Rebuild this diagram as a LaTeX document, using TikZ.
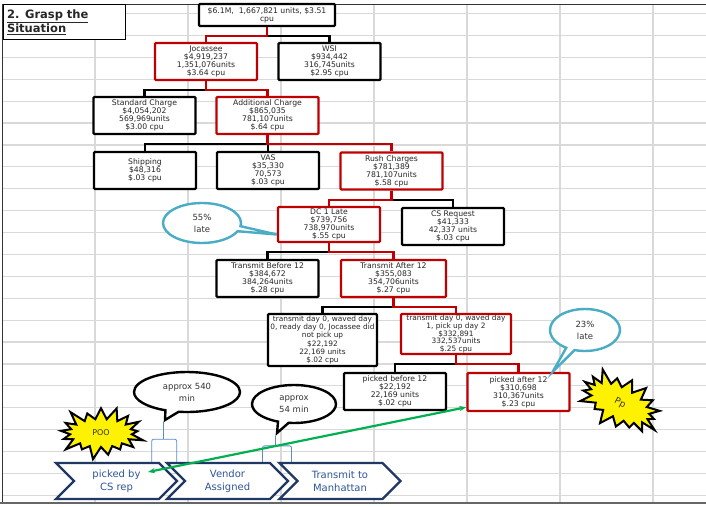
\documentclass[tikz,border=0pt]{standalone}
\usepackage{fontspec}
\setmainfont{DejaVu Sans}
\usetikzlibrary{shapes.callouts,shapes.symbols,shapes.arrows,arrows.meta}
\definecolor{cred}{HTML}{C00000}
\definecolor{cteal}{HTML}{4BACC6}
\definecolor{cnavy}{HTML}{1F3864}
\definecolor{ctext}{HTML}{2E5597}
\definecolor{cgreen}{HTML}{00B050}
\definecolor{cbrack}{HTML}{5B8BC9}
\definecolor{cgrid}{HTML}{D9D9D9}
\tikzset{
  box/.style={draw=black, line width=2.4pt, rounded corners=1pt, fill=white, align=center,
    inner sep=0pt, text=black!85, font=\fontsize{7.7}{8}\selectfont,
    minimum width=102pt, minimum height=37pt},
  rbox/.style={box, draw=cred},
  blink/.style={black, line width=2.4pt},
  rlink/.style={cred, line width=2.4pt},
  bubble/.style={ellipse callout, draw=cteal, line width=2.4pt, fill=white, align=center,
    text=black!80, font=\fontsize{8.5}{12}\selectfont, inner sep=0pt},
  wbubble/.style={bubble, draw=black},
  burst/.style={starburst, fill=yellow, draw=black, line width=2pt, inner sep=0pt,
    starburst point height=15pt, text=black!80, font=\fontsize{8}{9}\selectfont},
  chev/.style={signal, signal from=west, signal to=east, draw=cnavy, line width=2.4pt,
    fill=white, text=ctext, align=center, font=\fontsize{10}{13}\selectfont,
    minimum width=121pt, minimum height=36pt, inner sep=0pt},
  bracket/.style={cbrack, line width=0.8pt, rounded corners=2pt},
}
\newcommand\branch[3]{\draw[#1] (#2.south) -- ++(0,9) -| (#3.north);}
\begin{document}
\begin{tikzpicture}[x=1pt,y=-1pt]
\useasboundingbox (0,0) rectangle (706,506);
\fill[white] (0,0) rectangle (706,506);
\foreach \k in {0,...,22}
  \draw[cgrid, line width=1.2pt] (2,13.5+21.9*\k) -- (706,13.5+21.9*\k);
\foreach \gx in {95,188,281,374,467,560,653}
  \draw[cgrid, line width=1.2pt] (\gx,4) -- (\gx,503);
\draw[black!80, line width=0.8pt] (2,503) -- (2,4) -- (706,4);
\draw[black!60, line width=1.4pt] (0,503) -- (706,503);

\node (title) [draw, line width=0.9pt, fill=white, minimum width=122pt, minimum height=35pt,
  text width=114pt, align=left, inner sep=0pt, font=\fontsize{11.5}{14}\selectfont\bfseries,
  text=black!85] at (64,22) {\underline{2. Grasp the}\\\underline{Situation}};

\node (top) [box, minimum width=136pt, minimum height=22pt] at (267,15)
  {\$6.1M,\ \ 1,667,821 units, \$3.51\\cpu};
\node (joc) [rbox] at (206,61.5) {Jocassee\\\$4,919,237\\1,351,076units\\\$3.64 cpu};
\node (wsi) [box] at (329.5,61.5) {WSI\\\$934,442\\316,745units\\\$2.95 cpu};
\node (std) [box] at (144.5,115.5) {Standard Charge\\\$4,054,202\\569,969units\\\$3.00 cpu};
\node (add) [rbox] at (267.5,115.5) {Additional Charge\\\$865,035\\781,107units\\\$.64 cpu};
\node (ship) [box] at (145,170.5) {Shipping\\\$48,316\\\$.03 cpu};
\node (vas) [box] at (268,170.5) {VAS\\\$35,330\\70,573\\\$.03 cpu};
\node (rush) [rbox] at (391.5,171) {Rush Charges\\\$781,389\\781,107units\\\$.58 cpu};
\node (dc) [rbox, minimum height=35pt] at (329,224.5) {DC 1 Late\\\$739,756\\738,970units\\\$.55 cpu};
\node (csr) [box] at (453,226.5) {CS Request\\\$41,333\\42,337 units\\\$.03 cpu};
\node (tb) [box] at (267.5,278.5) {Transmit Before 12\\\$384,672\\384,264units\\\$.28 cpu};
\node (ta) [rbox, minimum width=105pt] at (393.5,278.5) {Transmit After 12\\\$355,083\\354,706units\\\$.27 cpu};
\node (tdl) [box, minimum width=109pt, minimum height=52pt, font=\fontsize{7.4}{8.2}\selectfont]
  at (322.5,340)
  {transmit day 0, waved day\\0, ready day 0, Jocassee did\\not pick up\\\$22,192\\22,169 units\\\$.02 cpu};
\node (tdr) [rbox, minimum width=110pt, minimum height=40pt, font=\fontsize{7.4}{7.6}\selectfont]
  at (456,334)
  {transmit day 0, waved day\\1, pick up day 2\\\$332,891\\332,537units\\\$.25 cpu};
\node (pb) [box] at (395,391.5) {picked before 12\\\$22,192\\22,169 units\\\$.02 cpu};
\node (pa) [rbox, minimum height=38pt] at (518.5,392) {picked after 12\\\$310,698\\310,367units\\\$.23 cpu};

\branch{blink}{top}{wsi}
\branch{rlink}{top}{joc}
\branch{blink}{joc}{std}
\branch{rlink}{joc}{add}
\branch{blink}{add}{ship}
\branch{blink}{add}{vas}
\branch{rlink}{add}{rush}
\branch{blink}{rush}{csr}
\branch{rlink}{rush}{dc}
\branch{blink}{dc}{tb}
\branch{rlink}{dc}{ta}
\branch{blink}{ta}{tdl}
\branch{rlink}{ta}{tdr}
\branch{blink}{tdr}{pb}
\branch{rlink}{tdr}{pa}

\node (late55) [bubble, minimum width=78pt, minimum height=40pt,
  callout absolute pointer={([yshift=-10pt]dc.west)}] at (202,223) {55\%\\late};
\node (late23) [bubble, minimum width=70pt, minimum height=42pt,
  callout absolute pointer={([xshift=-18pt]pa.north east)}] at (585,330) {23\%\\late};

\node (ch1) [chev] at (116.5,481) {picked by\\CS rep};
\node (ch2) [chev] at (227.5,481) {Vendor\\Assigned};
\node (ch3) [chev] at (340,481) {Transmit to\\Manhattan};

\node (c540) [wbubble, minimum width=106pt, minimum height=40pt,
  callout absolute pointer={(165,420)}] at (187,392) {approx 540\\min};
\node (c54) [wbubble, minimum width=84pt, minimum height=38pt,
  callout absolute pointer={(277,433)}] at (294,404) {approx\\54 min};

\draw[bracket] (c540.pointer) -- ++(0,17) coordinate (k1);
\draw[bracket] ([xshift=-12pt]k1 |- ch1.north) |- (k1) -| ([xshift=13pt]k1 |- ch1.north);
\draw[bracket] (c54.pointer) -- ++(0,10) coordinate (k2);
\draw[bracket] ([xshift=-13pt]k2 |- ch2.north) |- (k2) -| ([xshift=16pt]k2 |- ch2.north);

\node (poo) [burst, minimum width=92pt, minimum height=58pt] at (101,433) {POO};
\node (pp) [burst, minimum width=94pt, minimum height=60pt, rotate=-28,
  font=\fontsize{9}{10}\selectfont] at (620,403) {Pp};

\coordinate (pick) at (148,472);
\draw[cgreen, line width=2.2pt, {Stealth[length=7pt]}-{Stealth[length=7pt]}]
  (pick) -- ([yshift=5pt]pa.south west);
\end{tikzpicture}
\end{document}
